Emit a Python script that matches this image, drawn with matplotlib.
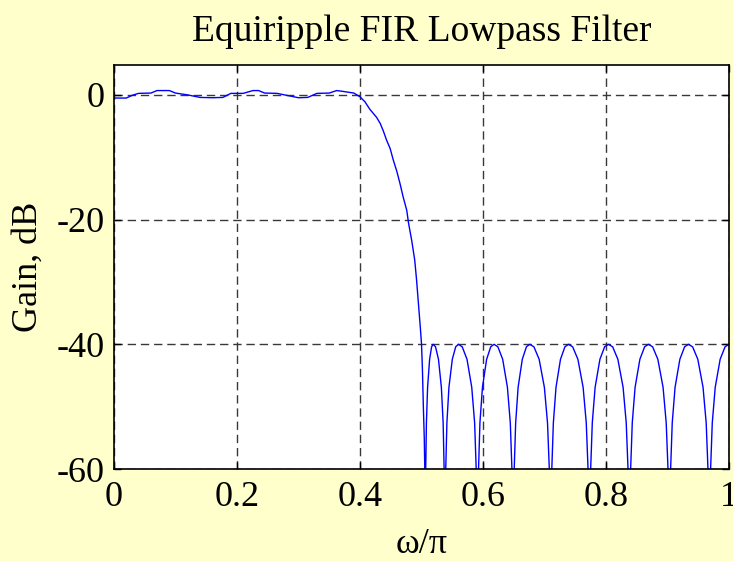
import matplotlib
matplotlib.use("Agg")
import matplotlib.pyplot as plt
import numpy as np

# ---- data (normalized frequency w/pi, gain in dB) ----
freq_pass = [0.000, 0.020, 0.030, 0.040, 0.060, 0.070, 0.080, 0.090, 0.100, 0.120,
             0.140, 0.160, 0.177, 0.190, 0.210, 0.226, 0.235, 0.245, 0.265, 0.280,
             0.300, 0.315, 0.330, 0.350, 0.362, 0.370, 0.390]
gain_pass = [-0.50, -0.50, -0.05, 0.25, 0.30, 0.70, 0.70, 0.70, 0.30, 0.00,
             -0.40, -0.45, -0.40, 0.25, 0.25, 0.70, 0.70, 0.30, 0.25, -0.05,
             -0.45, -0.40, 0.25, 0.30, 0.70, 0.60, 0.30]

freq_trans = [0.400, 0.408, 0.416, 0.427, 0.433, 0.438, 0.443, 0.449, 0.454, 0.460,
              0.465, 0.470, 0.476, 0.479, 0.484, 0.489, 0.492, 0.495, 0.498, 0.500,
              0.5015, 0.503, 0.5045, 0.5055]
gain_trans = [-0.3, -1.1, -2.3, -3.6, -4.6, -5.8, -7.2, -8.6, -10.4, -12.3,
              -14.2, -16.3, -18.5, -20.6, -23.3, -26.5, -29.7, -33.4, -37.2, -39.9,
              -44.0, -50.0, -55.0, -61.0]

freq_stop = [
    0.506, 0.5068, 0.5080, 0.5099, 0.5132, 0.5164, 0.519, 0.5228, 0.5276, 0.5323, 0.5352, 0.5369,
    0.538, 0.5393, 0.5413, 0.5446, 0.5501, 0.5556, 0.560, 0.5662, 0.5740, 0.5817, 0.5864, 0.5891,
    0.591, 0.5926, 0.5950, 0.5991, 0.6059, 0.6126, 0.618, 0.6242, 0.6320, 0.6397, 0.6444, 0.6472,
    0.649, 0.6506, 0.6531, 0.6571, 0.6639, 0.6706, 0.676, 0.6828, 0.6913, 0.6998, 0.7049, 0.7080,
    0.710, 0.7117, 0.7144, 0.7187, 0.7260, 0.7332, 0.739, 0.7458, 0.7543, 0.7628, 0.7679, 0.7710,
    0.773, 0.7749, 0.7777, 0.7823, 0.7901, 0.7978, 0.804, 0.8108, 0.8193, 0.8278, 0.8329, 0.8360,
    0.838, 0.8399, 0.8427, 0.8473, 0.8551, 0.8628, 0.869, 0.8758, 0.8843, 0.8928, 0.8979, 0.9010,
    0.903, 0.9049, 0.9077, 0.9123, 0.9201, 0.9278, 0.934, 0.9408, 0.9493, 0.9578, 0.9629, 0.9660,
    0.968, 0.9699, 0.9728, 0.9776, 0.9856, 0.9936, 1.000]
gain_stop = [
    -80, -60.5, -52.6, -46.9, -42.4, -40.4, -40.0, -40.4, -42.4, -46.9, -52.6, -60.5,
    -80, -60.5, -52.6, -46.9, -42.4, -40.4, -40.0, -40.4, -42.4, -46.9, -52.6, -60.5,
    -80, -60.5, -52.6, -46.9, -42.4, -40.4, -40.0, -40.4, -42.4, -46.9, -52.6, -60.5,
    -80, -60.5, -52.6, -46.9, -42.4, -40.4, -40.0, -40.4, -42.4, -46.9, -52.6, -60.5,
    -80, -60.5, -52.6, -46.9, -42.4, -40.4, -40.0, -40.4, -42.4, -46.9, -52.6, -60.5,
    -80, -60.5, -52.6, -46.9, -42.4, -40.4, -40.0, -40.4, -42.4, -46.9, -52.6, -60.5,
    -80, -60.5, -52.6, -46.9, -42.4, -40.4, -40.0, -40.4, -42.4, -46.9, -52.6, -60.5,
    -80, -60.5, -52.6, -46.9, -42.4, -40.4, -40.0, -40.4, -42.4, -46.9, -52.6, -60.5,
    -80, -60.5, -52.6, -46.9, -42.4, -40.4, -40.0]

x_ticks = [0, 0.2, 0.4, 0.6, 0.8, 1.0]
x_tick_labels = ["0", "0.2", "0.4", "0.6", "0.8", "1"]
y_ticks = [0, -20, -40, -60]
y_tick_labels = ["0", "-20", "-40", "-60"]

title = "Equiripple FIR Lowpass Filter"
xlabel = "\u03c9/\u03c0"
ylabel = "Gain, dB"

# ---- plotting ----
plt.rcParams['font.family'] = ['Liberation Serif', 'DejaVu Serif']
plt.rcParams['axes.unicode_minus'] = False

bg = '#FFFFCC'
fig = plt.figure(figsize=(7.33, 5.61), dpi=100, facecolor=bg)
ax = fig.add_axes([114 / 733, 1 - 469 / 561, (729 - 114) / 733, (469 - 65) / 561])
ax.set_facecolor('white')

freq = freq_pass + freq_trans + freq_stop
gain = gain_pass + gain_trans + gain_stop
ax.plot(freq, gain, color='#0000FF', linewidth=1.0, clip_on=True)

ax.set_xlim(0, 1)
ax.set_ylim(-60, 4.8)
ax.set_xticks(x_ticks)
ax.set_xticklabels(x_tick_labels)
ax.set_yticks(y_ticks)
ax.set_yticklabels(y_tick_labels)

ax.grid(True, color='0.22', linestyle=(0, (6, 3.5)), linewidth=1.0)
ax.tick_params(direction='in', length=5, width=1, top=True, right=True,
               labelsize=26, colors='black')
ax.tick_params(axis='x', pad=9)
ax.tick_params(axis='y', pad=7)
for s in ax.spines.values():
    s.set_linewidth(1.2)
    s.set_color('black')

ax.set_title(title, fontsize=27, pad=17)
ax.set_xlabel(xlabel, fontsize=26, labelpad=10)
ax.set_ylabel(ylabel, fontsize=26, labelpad=8)

fig.savefig('out.png', dpi=100, facecolor=bg)
